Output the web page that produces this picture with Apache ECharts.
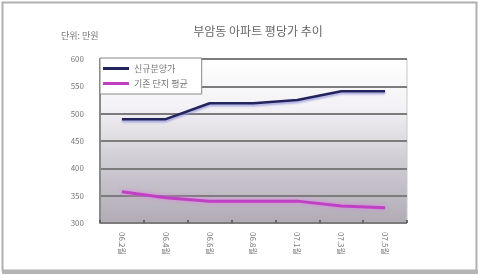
<!DOCTYPE html>
<html><head><meta charset="utf-8">
<script src="https://cdn.jsdelivr.net/npm/echarts@6/dist/echarts.min.js"></script>
<style>html,body{margin:0;padding:0;background:#fff}#c{width:480px;height:275px}</style>
</head><body><div id="c"></div>
<script>
const categories = ["06.2월","06.4월","06.6월","06.8월","07.1월","07.3월","07.5월"];
const seriesNames = ["신규분양가","기존 단지 평균"];
const newPrice = [490, 490, 519, 519, 525, 541, 541];
const avgPrice = [357, 346, 340, 340, 340, 331, 328];
const yTicks = {min: 300, max: 600, interval: 50};

const chart = echarts.init(document.getElementById('c'), null, {renderer: 'canvas'});
const font = "'Noto Sans CJK KR', 'Noto Sans', sans-serif";
chart.setOption({
  animation: false,
  backgroundColor: '#ffffff',
  title: {
    text: '부암동 아파트 평당가 추이', left: 253, top: 20, textAlign: 'center',
    textStyle: {fontFamily: font, fontSize: 12, fontWeight: 'normal', color: '#666'}
  },
  graphic: [
    {type: 'rect', shape: {x: 2.5, y: 2.5, width: 474, height: 268}, style: {fill: 'none', stroke: '#b0b0b0', lineWidth: 2}, z: 100},
    {type: 'rect', shape: {x: 2, y: 270, width: 476, height: 4}, style: {fill: '#b4b4b4'}, z: 100},
    {type: 'text', left: 61, top: 31, style: {text: '단위: 만원', font: "9px " + font, fill: '#777'}}
  ],
  grid: {
    left: 100, right: 73, top: 59, bottom: 52, show: true, borderColor: '#c8c8c8', borderWidth: 1,
    backgroundColor: {type: 'linear', x: 0, y: 0, x2: 0, y2: 1, colorStops: [
      {offset: 0, color: '#ffffff'}, {offset: 0.3, color: '#f3f1f5'}, {offset: 0.6, color: '#d2ced6'}, {offset: 1, color: '#b0abb5'}]}
  },
  legend: {
    left: 100, top: 58, orient: 'vertical', itemGap: 6, itemWidth: 26, itemHeight: 3,
    padding: [6, 14, 6, 3], backgroundColor: '#ffffff', borderColor: '#888', borderWidth: 1,
    textStyle: {fontFamily: font, fontSize: 9, color: '#777'},
    data: seriesNames.map(n => ({name: n, icon: 'rect'}))
  },
  xAxis: {
    type: 'category', data: categories, boundaryGap: true,
    axisLine: {show: false},
    axisTick: {show: true, inside: true, length: 3, lineStyle: {color: '#666', width: 2}},
    axisLabel: {rotate: -90, margin: 9, fontFamily: font, fontSize: 8, color: '#777'}
  },
  yAxis: {
    type: 'value', min: yTicks.min, max: yTicks.max, interval: yTicks.interval,
    axisLine: {show: true, lineStyle: {color: '#8a8a8a', width: 2}},
    axisTick: {show: false},
    axisLabel: {margin: 16, fontFamily: font, fontSize: 8, color: '#777'},
    splitLine: {show: true, lineStyle: {color: '#7c7c7c', width: 2}}
  },
  series: [
    {name: seriesNames[0], type: 'line', data: newPrice, symbol: 'none',
     lineStyle: {color: '#23235e', width: 2.5, shadowColor: 'rgba(150,150,220,0.8)', shadowBlur: 2, shadowOffsetY: 2},
     itemStyle: {color: '#23235e'}},
    {name: seriesNames[1], type: 'line', data: avgPrice, symbol: 'none',
     lineStyle: {color: '#c040c4', width: 3, shadowColor: 'rgba(230,120,235,0.9)', shadowBlur: 4},
     itemStyle: {color: '#c040c4'}}
  ]
});
</script></body></html>
